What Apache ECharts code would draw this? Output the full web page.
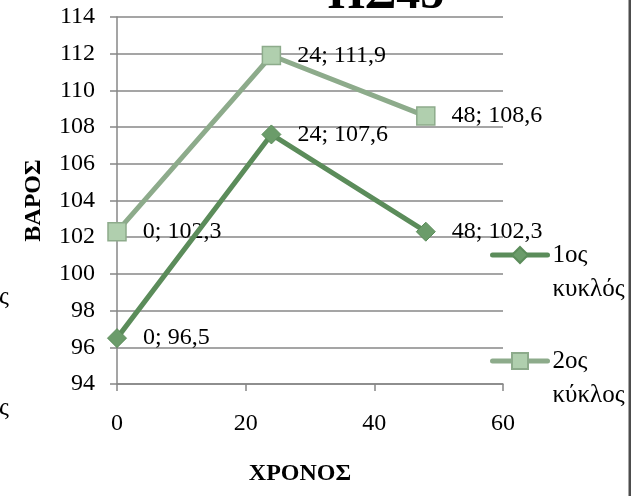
<!DOCTYPE html>
<html>
<head>
<meta charset="utf-8">
<script src="https://cdn.jsdelivr.net/npm/echarts@6/dist/echarts.min.js"></script>
<style>
  html, body { margin: 0; padding: 0; background: #ffffff; }
  #chart { width: 633px; height: 496px; }
</style>
</head>
<body>
<div id="chart"></div>
<script>
// Weight measured over time, two cycles
const timePoints = [0, 24, 48];
const cycle1Weight = [96.5, 107.6, 102.3];
const cycle2Weight = [102.3, 111.9, 108.6];
const seriesNames = ['1ος κυκλός', '2ος κύκλος'];
const legendLines = { '1ος κυκλός': ['1ος', 'κυκλός'], '2ος κύκλος': ['2ος', 'κύκλος'] };
const xTicks = { min: 0, max: 60, step: 20 };
const yTicks = { min: 94, max: 114, step: 2 };
const chartTitle = 'ΠΣ45';
const xName = 'ΧΡΟΝΟΣ';
const yName = 'ΒΑΡΟΣ';

const serif = "'Liberation Serif', 'Times New Roman', serif";
const gridGray = '#878787';

function pairs(xs, ys) {
  return xs.map((x, i) => [x, ys[i]]);
}

function pointLabel(p) {
  return p.value[0] + '; ' + String(p.value[1]).replace('.', ',');
}

// an empty first line keeps the legend symbol level with the first text line
function legendText(name) {
  return '\n' + legendLines[name].join('\n');
}

const chart = echarts.init(document.getElementById('chart'), null, { renderer: 'canvas' });

chart.setOption({
  backgroundColor: '#ffffff',
  animation: false,
  title: {
    text: chartTitle,
    left: 381,
    top: -33,
    textAlign: 'center',
    textStyle: { fontFamily: serif, fontWeight: 'bold', fontSize: 48, color: '#000' }
  },
  grid: { left: 117, right: 130, top: 17, bottom: 112, containLabel: false },
  legend: {
    orient: 'vertical',
    left: 490,
    top: 204,
    padding: 0,
    itemGap: 4,
    itemWidth: 55,
    itemHeight: 20,
    data: seriesNames,
    formatter: legendText,
    lineStyle: { width: 5, cap: 'round' },
    textStyle: { fontFamily: serif, fontSize: 25, color: '#000', lineHeight: 34 }
  },
  xAxis: {
    type: 'value',
    min: xTicks.min, max: xTicks.max, interval: xTicks.step,
    name: xName,
    nameLocation: 'middle',
    nameGap: 78,
    nameTextStyle: { fontFamily: serif, fontWeight: 'bold', fontSize: 24, color: '#000', padding: [0, 20, 0, 0] },
    axisLine: { show: true, onZero: false, lineStyle: { color: gridGray, width: 1.5 } },
    axisTick: { show: true, inside: false, length: 7, lineStyle: { color: gridGray, width: 1.5 } },
    axisLabel: { margin: 28, fontFamily: serif, fontSize: 24, color: '#000' },
    splitLine: { show: false }
  },
  yAxis: {
    type: 'value',
    min: yTicks.min, max: yTicks.max, interval: yTicks.step,
    name: yName,
    nameLocation: 'middle',
    nameGap: 71,
    nameRotate: 90,
    nameTextStyle: { fontFamily: serif, fontWeight: 'bold', fontSize: 24, color: '#000' },
    axisLine: { show: true, lineStyle: { color: gridGray, width: 1.5 } },
    axisTick: { show: true, inside: false, length: 7, lineStyle: { color: gridGray, width: 1.5 } },
    axisLabel: { margin: 22, fontFamily: serif, fontSize: 24, color: '#000' },
    splitLine: { show: true, lineStyle: { color: gridGray, width: 1.5 } }
  },
  series: [
    {
      name: seriesNames[0],
      type: 'line',
      data: pairs(timePoints, cycle1Weight),
      symbol: 'diamond',
      symbolSize: [19, 19],
      z: 3,
      lineStyle: { color: '#5b8c5a', width: 5, cap: 'round' },
      itemStyle: { color: '#6b9c6a', borderColor: '#5b8c5a', borderWidth: 1 },
      label: {
        show: true, position: 'right', distance: 16,
        formatter: pointLabel,
        fontFamily: serif, fontSize: 24, color: '#000'
      }
    },
    {
      name: seriesNames[1],
      type: 'line',
      data: pairs(timePoints, cycle2Weight),
      symbol: 'rect',
      symbolSize: 18,
      z: 2,
      lineStyle: { color: '#8dab8b', width: 5, cap: 'round' },
      itemStyle: { color: '#b0cfae', borderColor: '#8dab8b', borderWidth: 1.5 },
      label: {
        show: true, position: 'right', distance: 16,
        formatter: pointLabel,
        fontFamily: serif, fontSize: 24, color: '#000'
      }
    }
  ],
  graphic: [
    { type: 'text', left: -1, top: 285, style: { text: 'ς', font: "25px 'Liberation Serif', serif", fill: '#000' } },
    { type: 'text', left: -1, top: 396, style: { text: 'ς', font: "25px 'Liberation Serif', serif", fill: '#000' } },
    { type: 'rect', shape: { x: 631, y: 0, width: 2, height: 496 }, style: { fill: '#ffffff' }, z: 100 },
    { type: 'rect', shape: { x: 628.5, y: 0, width: 2.5, height: 496 }, style: { fill: '#4d4d4d' }, z: 100 }
  ]
});
</script>
</body>
</html>
